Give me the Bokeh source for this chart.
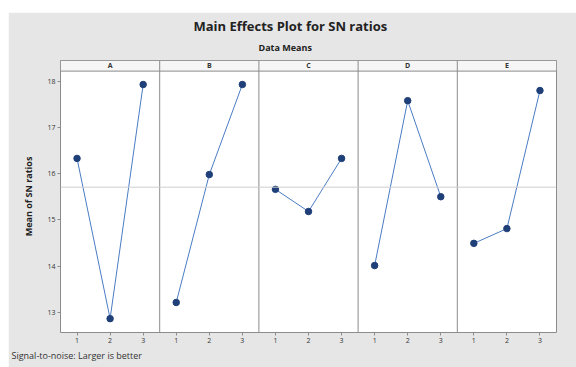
from bokeh.plotting import figure
from bokeh.models import Range1d, FixedTicker, Title, Span
from bokeh.embed import file_html
from bokeh.resources import INLINE
from bokeh.core.properties import value

# ---- data ----
factors = ["A", "B", "C", "D", "E"]
levels = ["1", "2", "3"]
sn_A = [16.33, 12.86, 17.93]
sn_B = [13.21, 15.98, 17.93]
sn_C = [15.66, 15.18, 16.33]
sn_D = [14.01, 17.58, 15.50]
sn_E = [14.49, 14.81, 17.80]
y_ticks = [13, 14, 15, 16, 17, 18]

series = [sn_A, sn_B, sn_C, sn_D, sn_E]
nlev = len(levels)
FONT = "Open Sans"
LINE = "#4a7cc4"
MARK = "#1f3f78"
GRAY_BG = "#e6e6e6"

y_lo, y_data_top, y_hi = 12.56, 18.22, 18.45

p = figure(width=568, height=355, output_backend="svg", toolbar_location=None,
           x_range=Range1d(0.5, len(factors) * nlev + 0.5),
           y_range=Range1d(y_lo, y_hi),
           min_border_left=52, min_border_right=20, min_border_bottom=35, min_border_top=48,
           border_fill_color=GRAY_BG, background_fill_color="white")
p.margin = (12, 0, 0, 8)
p.title = None
p.outline_line_color = "#8c8c8c"
p.xgrid.visible = False
p.ygrid.visible = False

# overall mean line
all_vals = [v for s in series for v in s]
grand = sum(all_vals) / len(all_vals)
p.add_layout(Span(location=grand, dimension="width", line_color="#cfcfcf", line_width=1))

# strip header
p.quad(left=[0.5], right=[len(factors) * nlev + 0.5], bottom=[y_data_top], top=[y_hi],
       fill_color="#f6f6f6", line_color="#8c8c8c", line_width=1)

# panel separators
edges = [k * nlev + 0.5 for k in range(1, len(factors))]
p.segment(x0=edges, x1=edges, y0=[y_lo] * len(edges), y1=[y_hi] * len(edges),
          line_color="#8c8c8c", line_width=1)

# strip labels
centers = [k * nlev + (nlev + 1) / 2 for k in range(len(factors))]
p.text(x=centers, y=[(y_data_top + y_hi) / 2] * len(factors), text=factors,
       text_align="center", text_baseline="middle", text_font=value(FONT),
       text_font_size="7px", text_font_style="bold", text_color="#333333")

# lines and markers
for k, s in enumerate(series):
    xs = [k * nlev + i + 1 for i in range(nlev)]
    p.line(xs, s, line_color=LINE, line_width=1)
    p.scatter(xs, s, size=6.5, fill_color=MARK, line_color=MARK)

# axes
xt = [k * nlev + i + 1 for k in range(len(factors)) for i in range(nlev)]
p.xaxis.ticker = FixedTicker(ticks=xt)
p.xaxis.major_label_overrides = {t: levels[(t - 1) % nlev] for t in xt}
p.yaxis.ticker = FixedTicker(ticks=y_ticks)
p.yaxis.axis_label = "Mean of SN ratios"
for ax in (p.xaxis[0], p.yaxis[0]):
    ax.axis_line_color = None
    ax.major_tick_line_color = "#8c8c8c"
    ax.major_tick_out = 3
    ax.major_tick_in = 0
    ax.minor_tick_line_color = None
    ax.major_label_text_font = FONT
    ax.major_label_text_font_size = "7px"
    ax.major_label_text_color = "#333333"
    ax.major_label_standoff = 2
p.yaxis.axis_label_text_font = FONT
p.yaxis.axis_label_text_font_size = "9px"
p.yaxis.axis_label_text_font_style = "bold"
p.yaxis.axis_label_text_color = "#222222"
p.yaxis.axis_label_standoff = 9

# footnote
p.add_layout(Title(text="Signal-to-noise: Larger is better", align="left", offset=-49,
                   text_font=FONT, text_font_size="9px", text_font_style="normal",
                   text_color="#333333", standoff=2), "below")
# titles
p.add_layout(Title(text="Data Means", align="left", offset=198, text_font=FONT,
                   text_font_size="9px", text_font_style="bold", text_color="#222222",
                   standoff=13), "above")
p.add_layout(Title(text="Main Effects Plot for SN ratios", align="left", offset=133,
                   text_font=FONT, text_font_size="13px", text_font_style="bold",
                   text_color="#222222", standoff=-4), "above")

open("out.html", "w").write(file_html(p, INLINE))
